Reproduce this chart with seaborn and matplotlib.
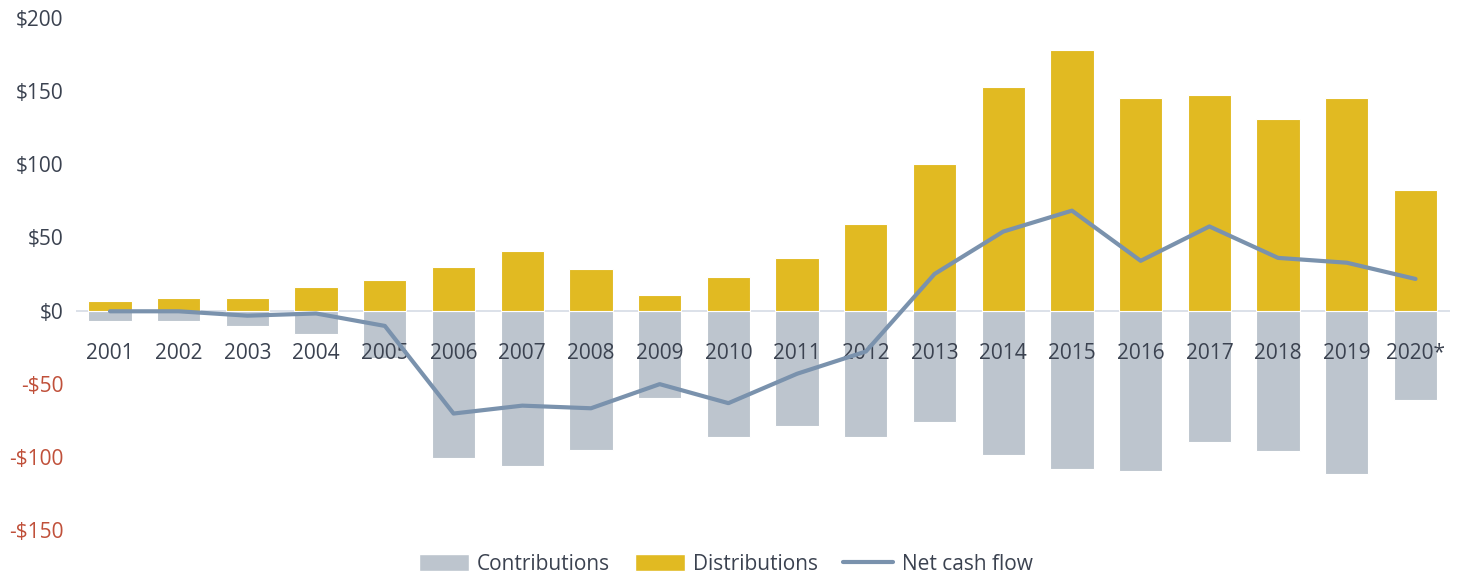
import numpy as np
import pandas as pd
import seaborn as sns
import matplotlib.pyplot as plt
import matplotlib.patches as patches
from matplotlib.lines import Line2D
from matplotlib.ticker import FuncFormatter

years = ["2001", "2002", "2003", "2004", "2005", "2006", "2007", "2008", "2009", "2010",
         "2011", "2012", "2013", "2014", "2015", "2016", "2017", "2018", "2019", "2020*"]
distributions = [6.8, 8.8, 8.8, 15.8, 21, 30, 41, 28.4, 10.6, 23,
                 35.7, 59, 100.5, 152.5, 178, 145.5, 147.5, 131, 145.5, 82.7]
contributions = [-7.3, -7.3, -10.8, -16.3, -32.4, -101, -106.3, -95.5, -59.5, -86.4,
                 -79.1, -86.4, -75.9, -99, -108, -110, -90, -95.7, -111.8, -61.3]
net_cash_flow = [-0.5, -0.5, -3.5, -2, -10.5, -70.4, -65, -66.8, -50.3, -63.3,
                 -43.2, -28, 25, 54, 68.3, 34, 57.5, 36, 32.7, 21.6]
yticks = [-150, -100, -50, 0, 50, 100, 150, 200]

GOLD = "#E1BA22"
GREY = "#BDC5CE"
LINE = "#7A92AD"
TEXT = "#3B4250"
RED = "#C0503A"

sns.set_style("white")
plt.rcParams["font.family"] = ["Open Sans", "DejaVu Sans"]
plt.rcParams["font.size"] = 15

df = pd.DataFrame({"year": years, "dist": distributions, "contrib": contributions,
                   "net": net_cash_flow})
df["pos"] = np.arange(len(df))

fig = plt.figure(figsize=(14.66, 5.75), dpi=100)
ax = fig.add_axes([0.0516, 0.0783, 0.9374, 0.8904])

sns.barplot(data=df, x="year", y="contrib", color=GREY, saturation=1, width=0.63,
            edgecolor="white", linewidth=0.8, ax=ax)
sns.barplot(data=df, x="year", y="dist", color=GOLD, saturation=1, width=0.63,
            edgecolor="white", linewidth=0.8, ax=ax)
ax.axhline(0, color="#D6DCE5", lw=1.2, zorder=0.9)
sns.lineplot(data=df, x="pos", y="net", color=LINE, lw=3, ax=ax,
             solid_capstyle="round", zorder=3)

# year labels sit on top of the bars but under the line
ax.set_axisbelow(False)

ax.set_xlim(-0.5, len(years) - 0.5)
ax.set_ylim(-150, 200)
ax.set_yticks(yticks)
ax.yaxis.set_major_formatter(FuncFormatter(lambda v, p: f"-${-v:.0f}" if v < 0 else f"${v:.0f}"))
for lbl, v in zip(ax.get_yticklabels(), yticks):
    lbl.set_color(RED if v < 0 else TEXT)
ax.tick_params(axis="y", length=0, pad=9, labelsize=15)

ax.spines["bottom"].set_position(("data", 0))
for s in ax.spines.values():
    s.set_visible(False)
ax.set_xticks(range(len(years)))
ax.set_xticklabels(years)
ax.tick_params(axis="x", length=0, pad=23, labelsize=15, labelcolor=TEXT)
ax.set_xlabel("")
ax.set_ylabel("")

handles = [
    patches.Patch(facecolor=GREY, label="Contributions"),
    patches.Patch(facecolor=GOLD, label="Distributions"),
    Line2D([0], [0], color=LINE, lw=3, label="Net cash flow"),
]
fig.legend(handles=handles, loc="center", bbox_to_anchor=(0.495, 0.019), ncol=3,
           frameon=False, fontsize=15, handlelength=2.4, handleheight=0.85,
           handletextpad=0.4, columnspacing=1.2, labelcolor=TEXT)

fig.savefig("out.png", dpi=100)
